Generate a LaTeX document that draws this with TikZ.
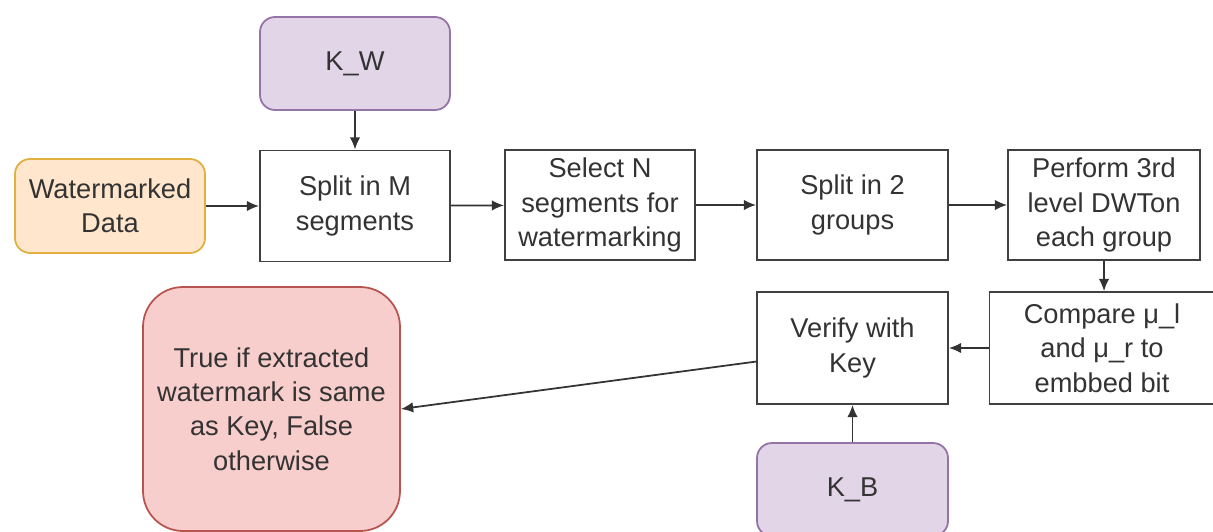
\documentclass[tikz,border=0pt]{standalone}
\usepackage{fontspec}
\setmainfont{Liberation Sans}
\usetikzlibrary{arrows.meta}
\definecolor{keyfill}{HTML}{E1D5E7}
\definecolor{keydraw}{HTML}{9673A6}
\definecolor{datafill}{HTML}{FFE6CC}
\definecolor{datadraw}{HTML}{E0B040}
\definecolor{resfill}{HTML}{F8CECC}
\definecolor{resdraw}{HTML}{B85450}
\definecolor{boxtext}{HTML}{333333}
\tikzset{
  stage/.style={draw=black!75, line width=1pt, fill=white, align=center, text=boxtext,
    font=\fontsize{15.5}{19.5}\selectfont, inner sep=2pt},
  keybox/.style={stage, draw=keydraw, fill=keyfill, rounded corners=0.3cm},
  flow/.style={-{Latex[length=7pt,width=6pt]}, line width=1pt, draw=black!80}
}
\begin{document}
\begin{tikzpicture}
\useasboundingbox (0,0) rectangle (24.26,-10.62);
%\draw[help lines] (0,0) grid (25,-11);
\node[keybox, minimum width=3.8cm, minimum height=1.86cm] (kw) at (7.1,-1.27) {K\_W};
\node[keybox, draw=datadraw, fill=datafill, minimum width=3.8cm, minimum height=1.88cm] (wdata) at (2.2,-4.12) {Watermarked\\Data};
\node[stage, minimum width=3.8cm, minimum height=2.22cm] (splitm) at (7.1,-4.12) {Split in M\\segments};
\node[stage, minimum width=3.8cm, minimum height=2.2cm] (selectn) at (12.0,-4.1) {Select N\\segments for\\watermarking};
\node[stage, minimum width=3.82cm, minimum height=2.2cm] (splittwo) at (17.05,-4.1) {Split in 2\\groups};
\node[stage, minimum width=3.84cm, minimum height=2.2cm] (dwt) at (22.08,-4.1) {Perform 3rd\\level DWTon\\each group};
\node[stage, minimum width=4.5cm, minimum height=2.24cm] (compare) at (22.04,-6.96) {Compare μ\_l\\and μ\_r to\\embbed bit};
\node[stage, minimum width=3.82cm, minimum height=2.24cm] (verify) at (17.05,-6.96) {Verify with\\Key};
\node[keybox, minimum width=3.82cm, minimum height=1.86cm] (kb) at (17.05,-9.79) {K\_B};
\node[keybox, draw=resdraw, fill=resfill, rounded corners=0.8cm, minimum width=5.14cm, minimum height=4.88cm] (result) at (5.43,-8.18) {True if extracted\\watermark is same\\as Key, False\\otherwise};
\draw[flow] (kw) -- (splitm);
\draw[flow] (wdata) -- (splitm);
\draw[flow] (splitm) -- (selectn);
\draw[flow] (selectn) -- (splittwo);
\draw[flow] (splittwo) -- (dwt);
\draw[flow] (dwt.south) -- (dwt.south |- compare.north);
\draw[flow] (compare) -- (verify);
\draw[flow] (kb) -- (verify);
\draw[flow] (verify.188) -- (result.east);
\end{tikzpicture}
\end{document}
